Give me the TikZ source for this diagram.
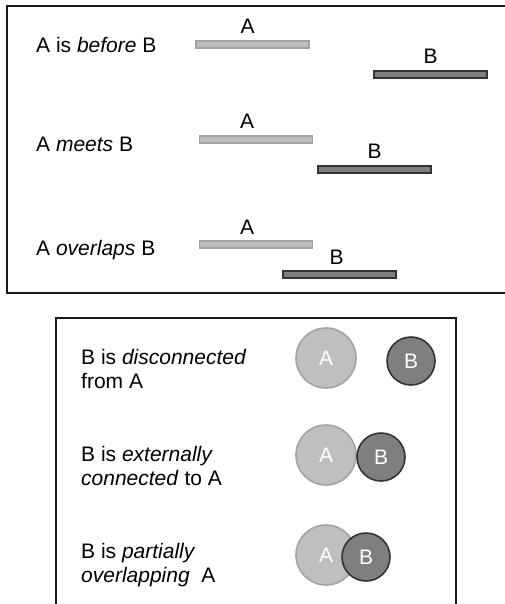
\documentclass[tikz,border=0pt]{standalone}
\usepackage{fontspec}
\setmainfont{Liberation Sans}
\usetikzlibrary{positioning}
\definecolor{lgfill}{HTML}{BFBFBF}
\definecolor{lgline}{HTML}{A3A3A3}
\definecolor{dkfill}{HTML}{7F7F7F}
\definecolor{dkline}{HTML}{333333}
\definecolor{frame}{HTML}{1A1A1A}

\begin{document}
\begin{tikzpicture}[x=1pt, y=-1pt, font=\fontsize{21}{24}\selectfont,
    panel/.style={draw=frame, line width=1.4pt},
    txt/.style={anchor=base west, inner sep=0pt, align=left},
    abar/.style={draw=lgline, fill=lgfill, line width=1.6pt, minimum width=113pt, minimum height=7pt, inner sep=0pt},
    bbar/.style={draw=dkline, fill=dkfill, line width=1.6pt, minimum width=113pt, minimum height=7pt, inner sep=0pt},
    barlbl/.style={inner sep=0pt},
    acirc/.style={circle, draw=lgline, fill=lgfill, line width=1.6pt, minimum size=60pt, inner sep=0pt, text=white},
    bcirc/.style={circle, draw=dkline, fill=dkfill, line width=1.6pt, minimum size=48pt, inner sep=0pt, text=white}]
  \useasboundingbox (0,0) rectangle (505,604);

  % upper panel: intervals
  \draw[panel] (505,6) -- (7,6) -- (7,293) -- (505,293);
  \node[txt] (t1) at (36,53) {A is \emph{before} B};
  \node[txt] (t2) at (36,151) {A \emph{meets} B};
  \node[txt] (t3) at (36,255) {A \emph{overlaps} B};

  \node[abar] (a1) at (252.5,44.5) {};
  \node[bbar] (b1) at (430.5,74.5) {};
  \node[abar] (a2) at (256,139.5) {};
  \node[bbar] (b2) at (374.5,169.5) {};
  \node[abar] (a3) at (256,244.5) {};
  \node[bbar] (b3) at (339.5,274.5) {};

  \node[barlbl, above=6pt of a1, xshift=-5pt] (la1) {A};
  \node[barlbl, above=6pt of b1] (lb1) {B};
  \node[barlbl, above=6pt of a2, xshift=-9pt] (la2) {A};
  \node[barlbl, above=6pt of b2] (lb2) {B};
  \node[barlbl, above=6pt of a3, xshift=-9pt] (la3) {A};
  \node[barlbl, above=6pt of b3, xshift=-3pt] (lb3) {B};

  % lower panel: regions
  \draw[panel] (56,604) -- (56,318) -- (456,318) -- (456,604);
  \node[txt] (r1) at (81,388) {B is \emph{disconnected}\\from A};
  \node[txt] (r2) at (81,485) {B is \emph{externally}\\\emph{connected} to A};
  \node[txt] (r3) at (81,582) {B is \emph{partially}\\\emph{overlapping}\ \ A};

  \node[acirc] (ca1) at (326,358) {A};
  \node[bcirc] (cb1) at (411,361) {B};
  \node[acirc] (ca2) at (326,455) {A};
  \node[bcirc] (cb2) at (381,457) {B};
  \node[acirc] (ca3) at (326,555) {A};
  \node[bcirc] (cb3) at (366,557) {B};
\end{tikzpicture}
\end{document}
